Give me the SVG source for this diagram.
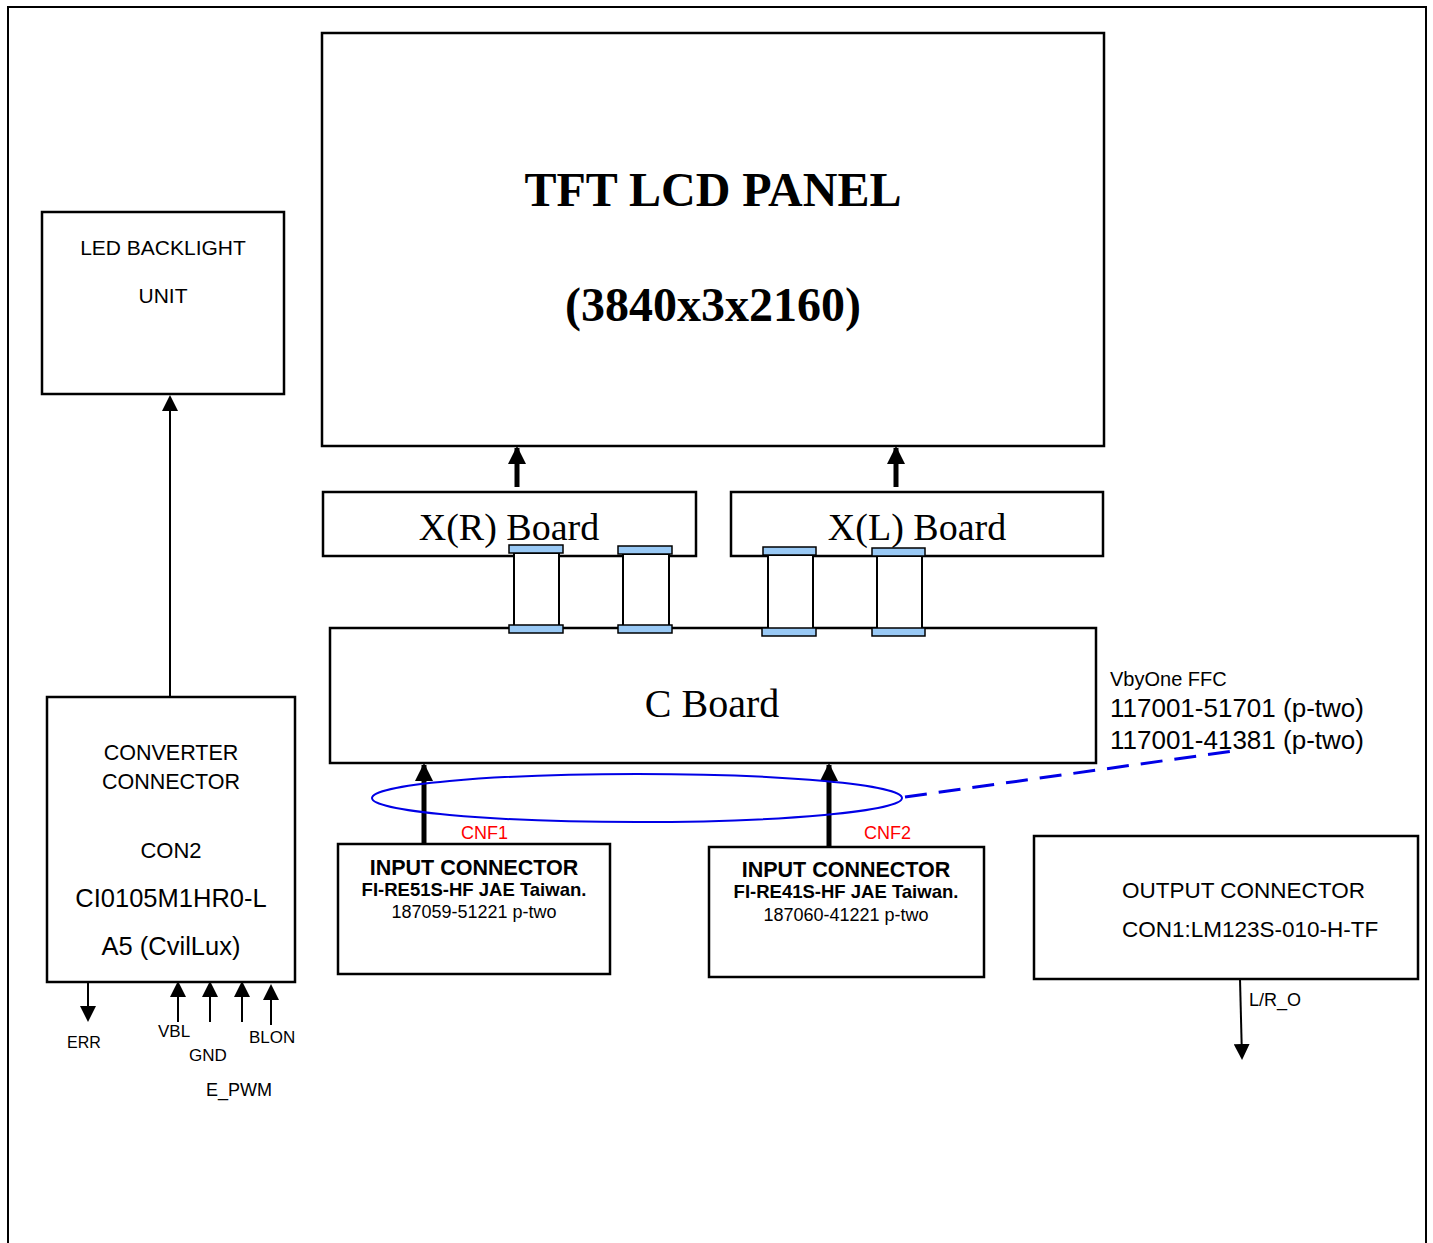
<svg xmlns="http://www.w3.org/2000/svg" width="1433" height="1243" viewBox="0 0 1433 1243">
<defs>
<style>
.box{fill:#fff;stroke:#000;stroke-width:2.5}
.cap{fill:#99c9f5;stroke:#000;stroke-width:1.5}
.ffc{fill:#fff;stroke:#000;stroke-width:2}
.thick{stroke:#000;stroke-width:5;fill:none}
.thin{stroke:#000;stroke-width:2;fill:none}
.cal{font-family:"Liberation Sans",Arial,sans-serif;font-size:21px;fill:#000}
.hel{font-family:"Liberation Sans",Arial,sans-serif;fill:#000}
.ser{font-family:"Liberation Serif","Times New Roman",serif;fill:#000}
</style>
<marker id="ahs" markerWidth="16" markerHeight="16" refX="14" refY="8" orient="auto" markerUnits="userSpaceOnUse" viewBox="0 0 16 16">
<path d="M0,0 L16,8 L0,16 z" fill="#000"/>
</marker>
<marker id="ahb" markerWidth="18" markerHeight="18" refX="16" refY="9" orient="auto" markerUnits="userSpaceOnUse" viewBox="0 0 18 18">
<path d="M0,0 L18,9 L0,18 z" fill="#000"/>
</marker>
</defs>
<rect width="1433" height="1243" fill="#fff"/>
<path d="M8,1243 L8,7 L1426,7 L1426,1243" fill="none" stroke="#000" stroke-width="2"/>

<g id="connectors">
<line class="thick" x1="517" y1="487" x2="517" y2="448" marker-end="url(#ahb)"/>
<line class="thick" x1="896" y1="487" x2="896" y2="448" marker-end="url(#ahb)"/>
<line class="thick" x1="424" y1="844" x2="424" y2="765" marker-end="url(#ahb)"/>
<line class="thick" x1="829" y1="847" x2="829" y2="765" marker-end="url(#ahb)"/>
<line class="thin" x1="170" y1="697" x2="170" y2="397" marker-end="url(#ahs)"/>
<line class="thin" x1="88" y1="982" x2="88" y2="1020" marker-end="url(#ahs)"/>
<line class="thin" x1="178" y1="1022" x2="178" y2="983" marker-end="url(#ahs)"/>
<line class="thin" x1="210" y1="1022" x2="210" y2="983" marker-end="url(#ahs)"/>
<line class="thin" x1="242" y1="1022" x2="242" y2="983" marker-end="url(#ahs)"/>
<line class="thin" x1="271" y1="1025" x2="271" y2="986" marker-end="url(#ahs)"/>
<line class="thin" x1="1240" y1="979" x2="1242" y2="1058" marker-end="url(#ahs)"/>
<ellipse cx="637" cy="798" rx="265" ry="24" fill="none" stroke="#0000e6" stroke-width="2"/>
<line x1="905" y1="797" x2="1240" y2="750" stroke="#0000e6" stroke-width="3" stroke-dasharray="22,12"/>
</g>

<g id="tft-panel">
<rect class="box" x="322" y="33" width="782" height="413"/>
<text class="ser" x="713" y="206" font-size="48" font-weight="bold" text-anchor="middle">TFT LCD PANEL</text>
<text class="ser" x="713" y="321" font-size="48" font-weight="bold" text-anchor="middle">(3840x3x2160)</text>
</g>

<g id="xr-board">
<rect class="box" x="323" y="492" width="373" height="64"/>
<text class="ser" x="509" y="540" font-size="38" text-anchor="middle">X(R) Board</text>
</g>

<g id="xl-board">
<rect class="box" x="731" y="492" width="372" height="64"/>
<text class="ser" x="917" y="540" font-size="38" text-anchor="middle">X(L) Board</text>
</g>

<g id="c-board">
<rect class="box" x="330" y="628" width="766" height="135"/>
<text class="ser" x="712" y="717" font-size="40" text-anchor="middle">C Board</text>
</g>

<g id="ffc-cables">
<rect class="ffc" x="514" y="553" width="45" height="73"/>
<rect class="cap" x="509" y="545" width="54" height="8"/>
<rect class="cap" x="509" y="625" width="54" height="8"/>
<rect class="ffc" x="623" y="554" width="46" height="72"/>
<rect class="cap" x="618" y="546" width="54" height="8"/>
<rect class="cap" x="618" y="625" width="54" height="8"/>
<rect class="ffc" x="768" y="555" width="45" height="74"/>
<rect class="cap" x="763" y="547" width="53" height="8"/>
<rect class="cap" x="762" y="628" width="54" height="8"/>
<rect class="ffc" x="877" y="556" width="45" height="73"/>
<rect class="cap" x="872" y="548" width="53" height="8"/>
<rect class="cap" x="872" y="628" width="53" height="8"/>
</g>

<g id="vbyone-label">
<text class="hel" x="1110" y="686" font-size="20">VbyOne FFC</text>
<text class="hel" x="1110" y="717" font-size="26">117001-51701 (p-two)</text>
<text class="hel" x="1110" y="749" font-size="26">117001-41381 (p-two)</text>
</g>

<g id="input-connector-1">
<rect class="box" x="338" y="844" width="272" height="130"/>
<text class="hel" x="461" y="839" font-size="18" style="fill:#ff0000">CNF1</text>
<text class="hel" x="474" y="875" font-size="21.5" font-weight="bold" text-anchor="middle">INPUT CONNECTOR</text>
<text class="hel" x="474" y="896" font-size="18.5" font-weight="bold" text-anchor="middle">FI-RE51S-HF JAE Taiwan.</text>
<text class="hel" x="474" y="918" font-size="18" text-anchor="middle">187059-51221 p-two</text>
</g>

<g id="input-connector-2">
<rect class="box" x="709" y="847" width="275" height="130"/>
<text class="hel" x="864" y="839" font-size="18" style="fill:#ff0000">CNF2</text>
<text class="hel" x="846" y="877" font-size="21.5" font-weight="bold" text-anchor="middle">INPUT CONNECTOR</text>
<text class="hel" x="846" y="898" font-size="18.5" font-weight="bold" text-anchor="middle">FI-RE41S-HF JAE Taiwan.</text>
<text class="hel" x="846" y="921" font-size="18" text-anchor="middle">187060-41221 p-two</text>
</g>

<g id="output-connector">
<rect class="box" x="1034" y="836" width="384" height="143"/>
<text class="cal" x="1122" y="898" style="font-size:22.5px">OUTPUT CONNECTOR</text>
<text class="cal" x="1122" y="937" style="font-size:22.5px">CON1:LM123S-010-H-TF</text>
<text class="cal" x="1249" y="1006" style="font-size:18px">L/R_O</text>
</g>

<g id="led-backlight">
<rect class="box" x="42" y="212" width="242" height="182"/>
<text class="cal" x="163" y="255" text-anchor="middle">LED BACKLIGHT</text>
<text class="cal" x="163" y="303" text-anchor="middle">UNIT</text>
</g>

<g id="converter-connector">
<rect class="box" x="47" y="697" width="248" height="285"/>
<text class="cal" x="171" y="760" text-anchor="middle" style="font-size:21.5px">CONVERTER</text>
<text class="cal" x="171" y="789" text-anchor="middle" style="font-size:21.5px">CONNECTOR</text>
<text class="cal" x="171" y="858" text-anchor="middle" style="font-size:22px">CON2</text>
<text class="cal" x="171" y="907" text-anchor="middle" style="font-size:25.5px">CI0105M1HR0-L</text>
<text class="cal" x="171" y="955" text-anchor="middle" style="font-size:25.5px">A5 (CvilLux)</text>
</g>

<g id="signal-labels">
<text class="cal" x="67" y="1048" style="font-size:16px">ERR</text>
<text class="cal" x="158" y="1037" style="font-size:17px">VBL</text>
<text class="cal" x="189" y="1061" style="font-size:17px">GND</text>
<text class="cal" x="249" y="1043" style="font-size:17px">BLON</text>
<text class="cal" x="206" y="1096" style="font-size:18px">E_PWM</text>
</g>
</svg>
